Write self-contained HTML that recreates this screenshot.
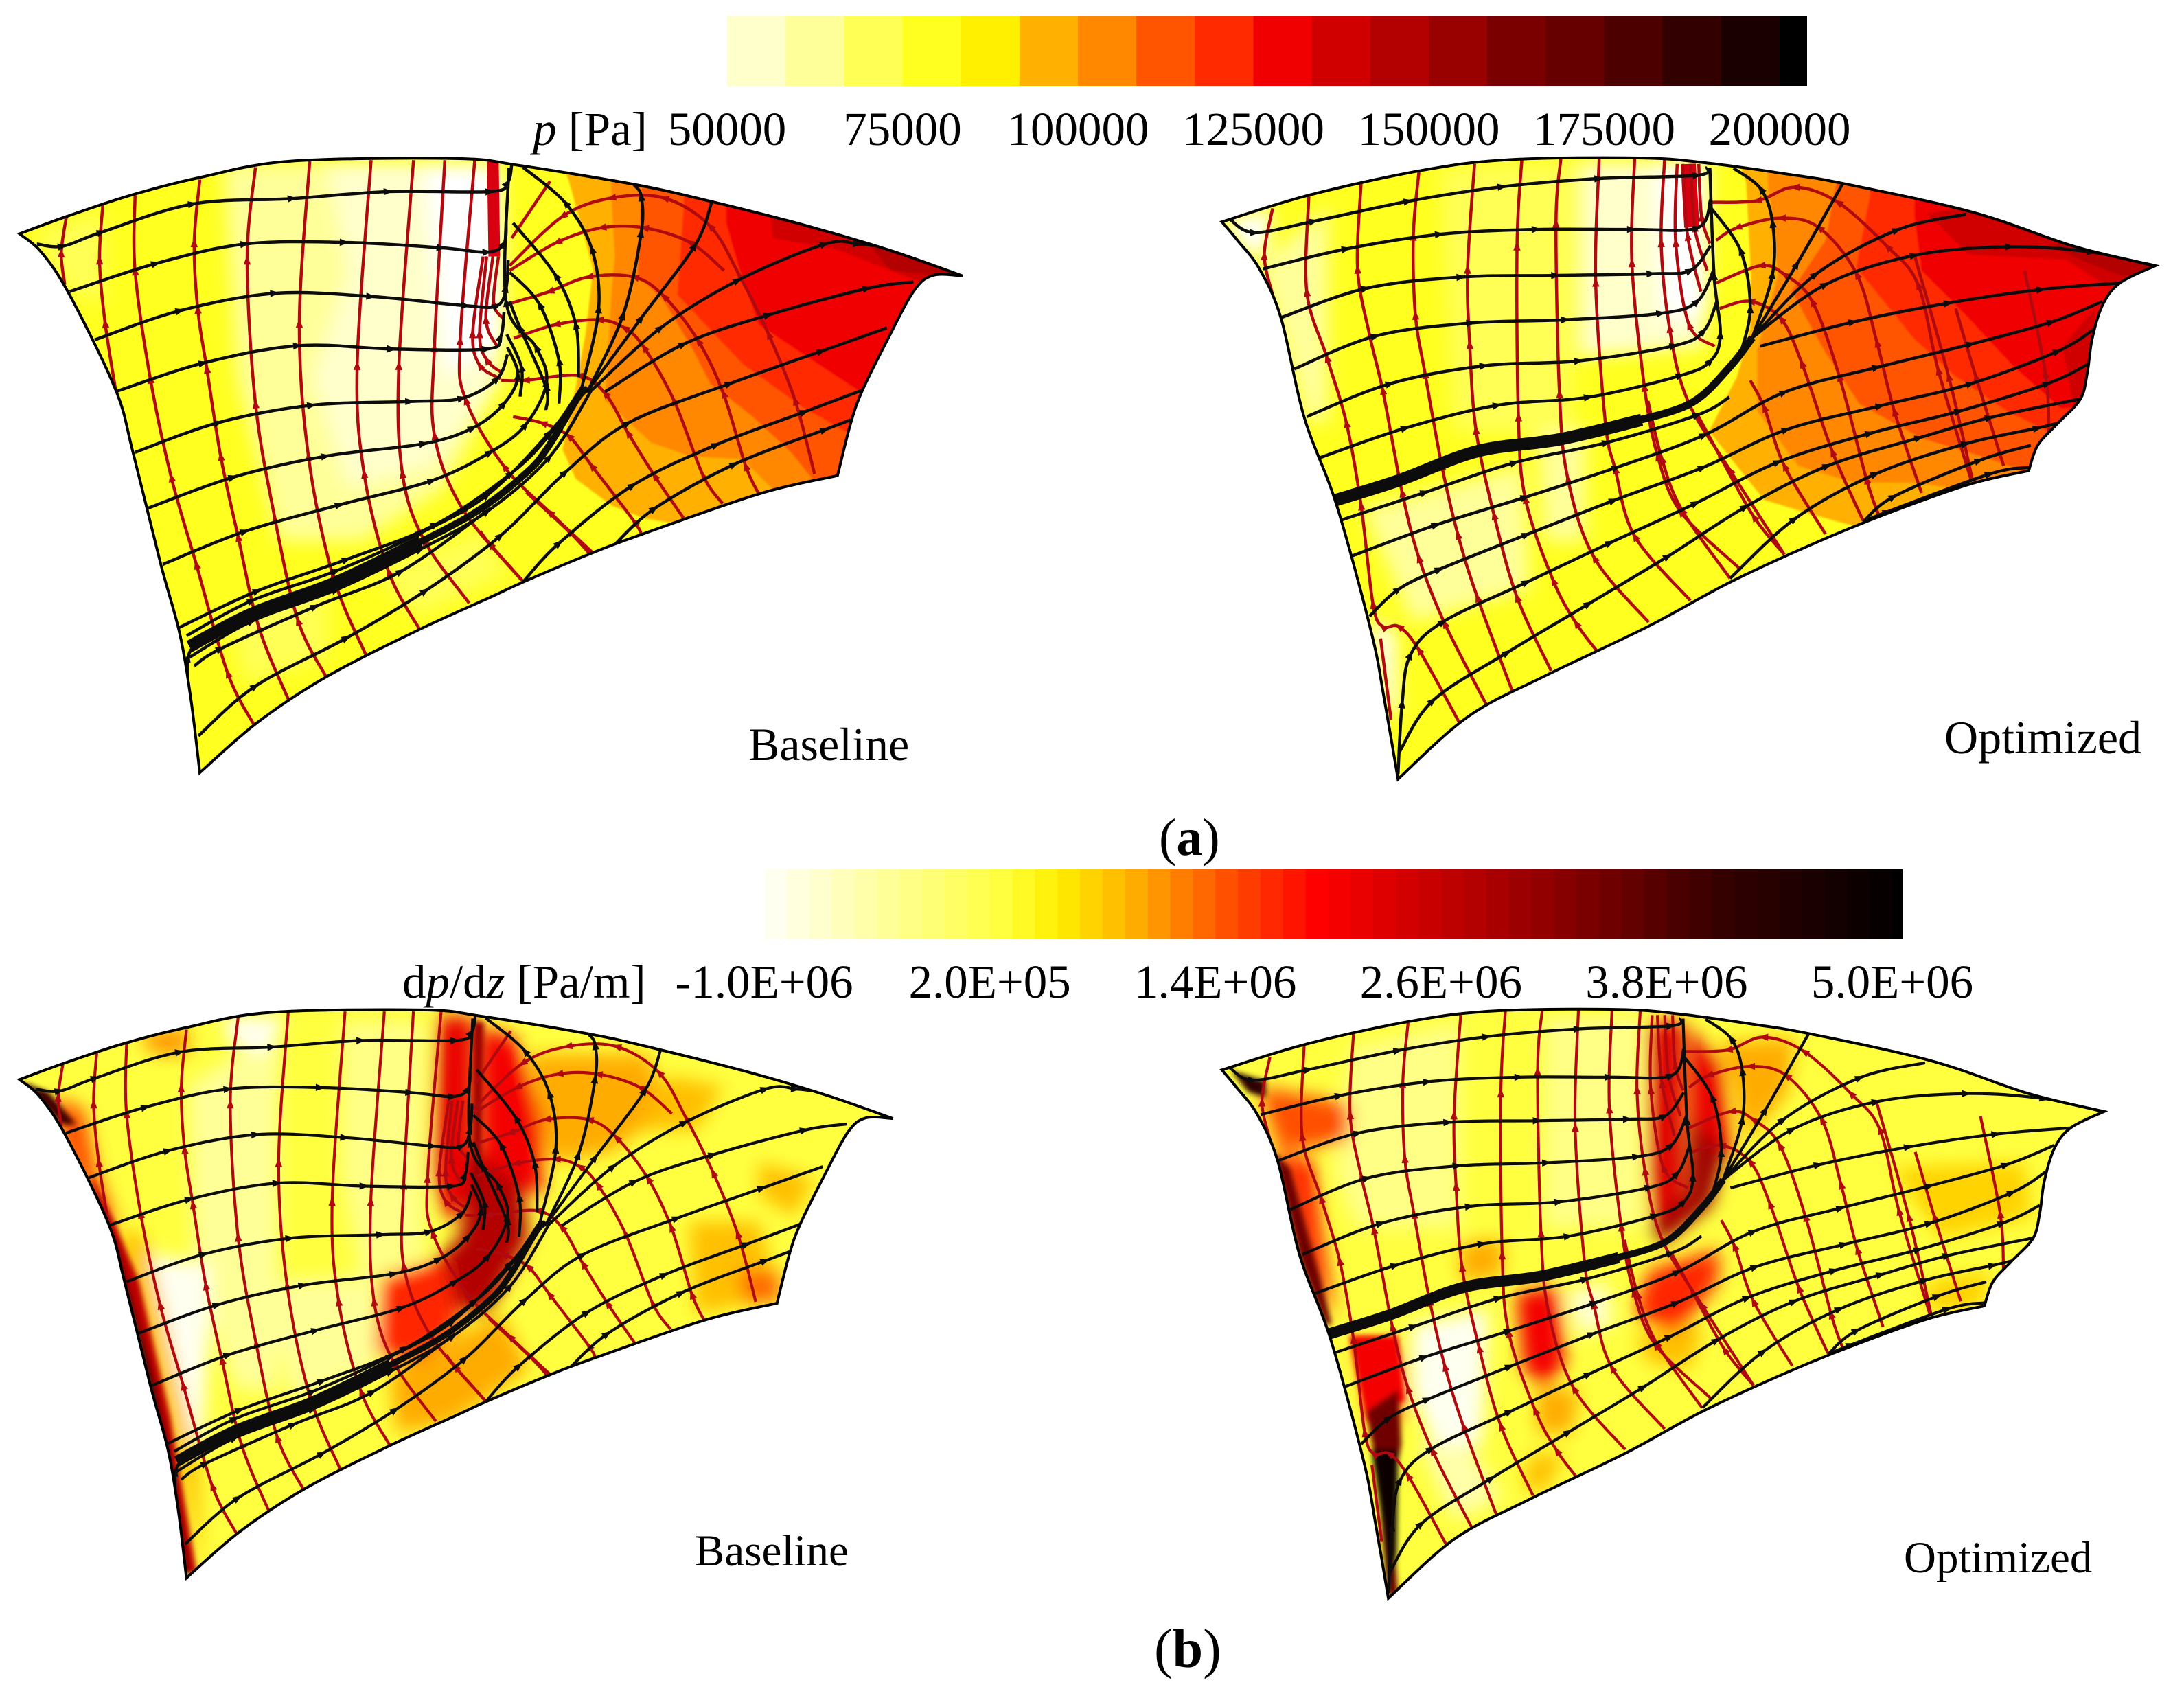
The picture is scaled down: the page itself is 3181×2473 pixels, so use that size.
<!DOCTYPE html>
<html lang="en">
<head>
<meta charset="utf-8">
<title>Pressure and pressure gradient contours with streamlines</title>
<style>
html,body{margin:0;padding:0;background:#fff;overflow:hidden}
svg{display:block}
text{font-family:"Liberation Serif",serif;fill:#000}
</style>
</head>
<body>
<svg id="figure" xmlns="http://www.w3.org/2000/svg" width="3181" height="2473" viewBox="0 0 3181 2473">
  <rect width="3181" height="2473" fill="#fff"/>
  <defs>
    <filter id="blurHard" filterUnits="userSpaceOnUse" x="0" y="0" width="3181" height="2473"><feGaussianBlur stdDeviation="1.2"/></filter>
    <filter id="blurSoft" filterUnits="userSpaceOnUse" x="0" y="0" width="3181" height="2473"><feGaussianBlur stdDeviation="13"/></filter>
    <filter id="blurEdge" filterUnits="userSpaceOnUse" x="0" y="0" width="3181" height="2473"><feGaussianBlur stdDeviation="4"/></filter>
  </defs>
  <g id="panels"></g>
  <g id="colorbars"></g>
  <text x="776" y="211" font-size="69"><tspan font-style="italic">p</tspan> [Pa]</text>
  <text x="586" y="1453" font-size="69">d<tspan font-style="italic">p</tspan>/d<tspan font-style="italic">z</tspan> [Pa/m]</text>
  <text x="1090" y="1107" font-size="68">Baseline</text>
  <text x="2832" y="1097" font-size="68">Optimized</text>
  <text x="1012" y="2280" font-size="65">Baseline</text>
  <text x="2773" y="2290" font-size="65">Optimized</text>
  <text x="1688" y="1245" font-size="76">(<tspan font-weight="bold">a</tspan>)</text>
  <text x="1681" y="2428" font-size="80">(<tspan font-weight="bold">b</tspan>)</text>
</svg>
<script>
/* ---------- colour-bar data ---------- */
const pressureBandColors = ["#ffffcc","#ffff99","#ffff55","#ffff20","#fff000","#ffb000","#ff8800","#ff5500","#ff2a00","#f00000","#d00000","#b30000","#990000","#7a0000","#660000","#4d0000","#330000","#1a0000","#000000"];
const pressureMin = 50000;
const pressureBandStep = 25000 / 3;
const pressureTicks = [50000, 75000, 100000, 125000, 150000, 175000, 200000];
const gradientStops = [-1000000, 200000, 500000, 900000, 1400000, 1880000, 3100000, 4050000, 5000000];
const gradientStopColors = ["#fffff0","#ffff40","#fff000","#ffb000","#ff5000","#ff0000","#900000","#330000","#000000"];
const gradientBandStep = 120000;
const gradientTicks = [-1000000, 200000, 1400000, 2600000, 3800000, 5000000];
const gradientTickLabels = ["-1.0E+06","2.0E+05","1.4E+06","2.6E+06","3.8E+06","5.0E+06"];

/* ---------- surface geometry, in blade-surface coordinates ---------- */
const baselineOutline = [
 [[28,432],[96,400],[190,360],[287,328],[417,298],[654,293],[747,306],[916,342],[1020,372],[1161,418],[1279,463],[1383,510]],
 [[1383,510],[1340,509],[1312,539],[1274,630],[1239,721],[1222,782],[1203,879]],
 [[1203,879],[1090,913],[921,988],[845,1025],[751,1076],[704,1104],[600,1165],[470,1250],[370,1335],[287,1428]],
 [[287,1428],[274,1290],[258,1170],[231,1043],[191,836],[166,720],[100,545],[60,467],[28,432]]
];
const baselineBlack = [
 [[53,451],[90,455],[146,429],[277,377],[420,367],[558,354],[704,354],[729,338],[735,305]],
 [[100,539],[224,487],[352,451],[495,448],[634,458],[700,466],[724,450],[727,409]],
 [[136,628],[259,574],[395,542],[533,548],[669,565],[714,565],[727,532],[730,480]],
 [[168,723],[292,671],[428,639],[563,645],[699,645],[719,623],[724,577]],
 [[194,836],[314,781],[448,749],[589,742],[664,736],[714,700],[729,655]],
 [[211,940],[335,882],[468,843],[609,820],[679,791],[724,746],[744,694],[729,642]],
 [[234,1043],[352,982],[488,933],[621,888],[704,836],[755,785],[785,707],[770,642],[727,558],[731,310]],
 [[257,1160],[370,1092],[498,1034],[626,969],[734,875],[789,804],[836,715]],
 [[268,1175],[362,1110],[483,1055],[604,985],[700,915],[789,800],[840,715]],
 [[272,1215],[362,1148],[483,1090],[604,1015],[700,945],[789,845],[850,720]],
 [[279,1231],[317,1199],[453,1121],[576,1056],[704,940]],
 [[272,1300],[270,1215],[290,1180]],
 [[285,1360],[367,1268],[498,1179],[611,1092],[719,990],[812,873],[902,782],[1048,709],[1180,649],[1274,606]],
 [[751,1076],[803,1004],[909,897],[1029,822],[1156,761],[1239,721]],
 [[878,1013],[940,940],[1055,858],[1185,794],[1222,776]],
 [[845,721],[921,588],[998,454],[1022,375]],
 [[845,721],[895,582],[921,430],[921,363],[911,342]],
 [[836,715],[860,570],[850,460],[812,375],[751,309]],
 [[850,721],[949,606],[1060,518],[1185,451],[1232,451],[1255,454]],
 [[869,724],[982,636],[1104,582],[1246,533],[1312,521]],
 [[831,697],[827,600],[798,509],[737,412]],
 [[803,746],[803,667],[775,563],[732,503]],
 [[784,758],[784,715],[747,606],[732,557]],
 [[747,733],[749,679],[728,618]]
];
const baselineThick = [
 [[272,1195],[362,1134],[483,1076],[604,1001]],
 [[560,1030],[679,950],[755,875],[789,823],[830,735],[845,718]]
];
const baselineThickSizes = [18, 10];
const baselineRed = [
 [[96,396],[88,467],[93,526]],
 [[148,374],[143,480],[151,597],[166,720]],
 [[194,361],[194,500],[216,700],[246,882],[282,1043],[327,1244],[365,1340]],
 [[287,332],[279,448],[284,571],[297,681],[317,843],[342,992],[372,1160],[415,1295]],
 [[367,309],[355,480],[367,746],[395,959],[428,1147],[468,1250]],
 [[445,296],[430,597],[443,843],[478,1063],[526,1212]],
 [[533,296],[513,675],[523,875],[558,1056],[604,1166]],
 [[594,296],[573,675],[578,875],[609,998],[674,1115]],
 [[639,296],[624,642],[624,804],[664,940],[749,1072]],
 [[682,296],[661,629],[669,739],[724,862],[789,946],[850,1020]],
 [[694,474],[679,616],[689,675],[719,700]],
 [[699,474],[689,616],[699,665],[722,690]],
 [[708,474],[698,590],[714,640]],
 [[716,474],[709,560],[724,590]],
 [[735,440],[790,335]],
 [[732,491],[808,400],[878,366],[954,366],[1020,418],[1062,509],[1104,618],[1142,740],[1170,876]],
 [[732,500],[800,448],[864,421],[925,421],[991,448],[1040,500]],
 [[735,560],[789,539],[845,512],[911,512],[954,548],[1003,630],[1039,727],[1071,861],[1090,913]],
 [[738,625],[798,600],[860,591],[897,606],[925,642],[968,740],[1010,879],[1038,931]],
 [[720,703],[754,703],[831,694],[869,727],[902,800],[940,879],[982,958]],
 [[737,770],[779,782],[817,806],[850,861],[911,964],[921,988]],
 [[690,982],[704,1006],[751,1074]],
 [[756,910],[817,982],[848,1025]]
];
const baselineDenseRed = [[[708,299],[710,474]]];
const baselineSoftPressure = [
 {v:68000,pts:[[50,430],[150,390],[150,560],[100,540]]},
 {v:68000,pts:[[330,1130],[470,1090],[470,1220],[350,1260]]},
 {v:70000,pts:[[540,1060],[690,980],[730,1060],[600,1140]]},
 {v:64000,pts:[[320,300],[700,300],[720,700],[640,900],[520,1000],[400,1000],[340,700]]},
 {v:54000,pts:[[470,300],[700,300],[720,700],[620,860],[500,900],[450,700],[500,500]]},
 {v:45000,pts:[[610,310],[720,310],[725,640],[640,690],[625,500]]}
];
const baselineBands = [
 {v:96000,pts:[[805,300],[817,333],[852,497],[841,618],[827,715],[808,831],[827,885],[878,934],[925,958],[982,970],[1400,1000],[1400,300]]},
 {v:104000,pts:[[878,300],[878,363],[883,472],[878,545],[869,740],[935,818],[991,843],[1067,849],[1114,910],[1400,950],[1400,300]]},
 {v:112000,pts:[[921,300],[921,363],[916,509],[954,557],[996,648],[1020,709],[1081,770],[1137,837],[1170,890],[1400,900],[1400,300]]},
 {v:121000,pts:[[982,300],[982,381],[973,545],[1067,673],[1152,752],[1218,800],[1400,800],[1400,300]]},
 {v:129000,pts:[[1043,300],[1043,412],[1062,497],[1090,600],[1161,661],[1232,721],[1400,700],[1400,300]]},
 {v:137000,pts:[[1100,300],[1110,440],[1200,460],[1320,520],[1400,520],[1400,300]]},
 {v:146000,pts:[[1240,440],[1280,500],[1400,515],[1400,440]]}
];
const optimizedOutline = [
 [[187,410],[314,360],[474,315],[601,295],[790,292],[889,302],[1000,322],[1079,339],[1265,392],[1413,456],[1528,491]],
 [[1528,491],[1477,523],[1452,564],[1437,627],[1430,690],[1420,738],[1388,782],[1359,823],[1346,870]],
 [[1346,870],[1261,895],[1143,949],[1040,1003],[917,1076],[799,1158],[650,1250],[540,1325],[440,1440]],
 [[440,1440],[420,1290],[402,1170],[352,934],[305,770],[272,588],[241,497],[210,445],[187,410]]
];
const optimizedBlack = [
 [[199,406],[234,430],[319,409],[455,372],[590,345],[729,330],[870,324],[884,309]],
 [[246,497],[366,460],[500,433],[639,424],[776,424],[870,421],[889,369]],
 [[272,587],[394,533],[531,512],[667,509],[804,506],[860,500],[889,454]],
 [[291,682],[408,621],[545,597],[681,591],[818,579],[870,557],[894,497]],
 [[309,770],[429,709],[564,676],[700,667],[837,639],[879,612],[898,557]],
 [[328,846],[451,791],[583,749],[714,734],[846,694],[889,667],[903,618],[894,509],[888,310]],
 [[359,961],[479,910],[608,855],[740,818],[870,767],[916,734]],
 [[373,1028],[495,970],[623,919],[754,864],[880,804],[995,725],[1128,679],[1263,636],[1379,595],[1452,557]],
 [[399,1139],[441,1089],[500,1052],[625,988],[750,925],[878,864],[998,794],[1133,750],[1263,709],[1388,649],[1440,608]],
 [[440,1430],[446,1300],[458,1210],[505,1149],[625,1076],[745,1003],[868,930],[986,854],[1118,801],[1246,760],[1373,709],[1430,674]],
 [[442,1390],[490,1295],[597,1206],[714,1116],[828,1028],[939,937],[1057,861],[1189,809],[1290,772],[1418,738]],
 [[917,1069],[1010,959],[1126,876],[1256,820],[1359,791],[1388,782]],
 [[1108,965],[1152,918],[1275,851],[1349,823]],
 [[1108,965],[1143,946],[1290,876],[1346,864]],
 [[949,624],[1040,507],[1157,425],[1256,396]],
 [[949,624],[1054,526],[1182,472],[1319,456],[1437,466],[1526,491]],
 [[960,640],[1094,595],[1231,560],[1364,535],[1477,523]],
 [[949,624],[1013,488],[1079,339]],
 [[949,624],[978,507],[978,412],[961,349],[922,311]],
 [[931,658],[946,570],[932,463],[887,380]]
];
const optimizedThick = [
 [[349,925],[441,888],[554,834],[672,812],[790,776]],
 [[770,782],[860,746],[916,679],[949,624]]
];
const optimizedThickSizes = [18, 11];
const optimizedRed = [
 [[260,385],[248,472],[260,545]],
 [[312,360],[309,539],[338,661],[366,782],[387,934],[404,1116],[418,1158],[441,1158],[470,1201],[530,1340]],
 [[387,339],[382,497],[399,618],[418,721],[446,910],[470,1031],[507,1152],[570,1310]],
 [[470,318],[462,436],[465,582],[479,691],[503,861],[526,988],[554,1104],[605,1280]],
 [[550,303],[540,497],[543,636],[552,794],[578,952],[611,1104],[660,1240]],
 [[618,293],[611,454],[613,770],[623,922],[663,1073],[696,1152],[730,1210]],
 [[674,293],[667,412],[672,727],[684,885],[722,1031],[800,1150]],
 [[729,293],[724,521],[738,782],[752,867],[780,991],[860,1110]],
 [[780,293],[776,485],[794,715],[813,843],[846,946],[930,1050]],
 [[823,293],[818,448],[830,606],[856,740],[917,869],[995,1025]],
 [[841,303],[839,448],[858,600],[895,640]],
 [[849,303],[856,436],[875,539]],
 [[860,303],[866,420],[884,500]],
 [[872,303],[876,400],[888,450]],
 [[415,1180],[430,1330]],
 [[890,374],[956,371],[1010,346],[1072,374],[1143,456],[1187,526],[1216,684],[1263,886]],
 [[897,444],[927,421],[990,403],[1045,421],[1099,507],[1128,633],[1153,760],[1192,911]],
 [[897,523],[961,491],[995,507],[1035,557],[1074,696],[1113,886],[1130,950]],
 [[902,570],[946,557],[990,589],[1020,671],[1064,835],[1108,962]],
 [[946,703],[966,753],[995,861],[1054,987]],
 [[870,766],[902,842],[951,955],[995,1025]],
 [[799,741],[819,848],[848,943],[917,1069]],
 [[1182,472],[1231,696],[1265,886]],
 [[1241,570],[1270,696],[1310,861]],
 [[1340,500],[1370,690],[1375,800]]
];
const optimizedDenseRed = [[[857,303],[862,420]]];
const optimizedSoftPressure = [
 {v:66000,pts:[[240,490],[340,380],[340,780],[310,780]]},
 {v:70000,pts:[[500,310],[690,300],[690,800],[520,800]]},
 {v:66000,pts:[[390,940],[620,860],[630,1090],[460,1150]]},
 {v:66000,pts:[[640,800],[710,790],[710,1000],[650,1000]]},
 {v:58000,pts:[[700,300],[880,300],[880,640],[700,660]]},
 {v:49000,pts:[[810,300],[885,300],[885,580],[820,590]]},
 {v:45000,pts:[[188,408],[260,385],[250,470],[225,470]]},
 {v:45000,pts:[[400,1140],[435,1170],[440,1320],[425,1320]]}
];
const optimizedBands = [
 {v:96000,pts:[[930,300],[940,336],[947,507],[946,608],[927,696],[887,797],[966,924],[1030,949],[1103,975],[1600,1000],[1600,300]]},
 {v:104000,pts:[[971,300],[971,336],[986,507],[956,646],[956,760],[1015,861],[1094,892],[1182,892],[1251,905],[1600,900],[1600,300]]},
 {v:112000,pts:[[1069,300],[1069,342],[1054,444],[1005,538],[1054,652],[1103,747],[1192,810],[1290,848],[1346,875],[1600,870],[1600,300]]},
 {v:121000,pts:[[1118,300],[1118,361],[1098,494],[1182,627],[1241,696],[1315,760],[1378,800],[1600,800],[1600,300]]},
 {v:129000,pts:[[1182,300],[1182,399],[1192,500],[1256,583],[1324,677],[1392,755],[1600,740],[1600,300]]},
 {v:137000,pts:[[1200,395],[1260,470],[1400,480],[1460,530],[1600,530],[1600,300]]},
 {v:137000,pts:[[1395,640],[1440,570],[1445,720],[1410,750]]},
 {v:146000,pts:[[1380,455],[1420,480],[1480,510],[1600,500],[1600,300]]}
];
/* gradient field patches use each lower panel's own coordinates */
const baselineSoftGradient = [
 {v:-300000,pts:[[270,440],[400,330],[400,1000],[340,1000],[280,800]]},
 {v:-900000,pts:[[320,310],[410,310],[380,380],[330,360]]},
 {v:-900000,pts:[[215,750],[300,770],[300,900],[290,1100],[260,1100],[235,900]]},
 {v:-200000,pts:[[490,320],[610,320],[610,760],[520,800],[490,600]]},
 {v:-300000,pts:[[380,800],[540,790],[540,960],[420,1020]]},
 {v:1100000,pts:[[200,340],[270,330],[270,380],[220,380]]},
 {v:1500000,pts:[[75,460],[120,480],[140,600],[170,700],[140,680],[90,560]]},
 {v:900000,pts:[[170,700],[210,720],[250,950],[285,1150],[290,1340],[255,1130],[215,930]]},
 {v:2200000,pts:[[630,310],[680,310],[680,640],[640,690],[620,600]]},
 {v:2000000,pts:[[690,330],[740,350],[780,500],[780,640],[690,600]]},
 {v:2800000,pts:[[680,560],[750,620],[760,720],[700,860],[640,850],[600,790],[660,720]]},
 {v:1700000,pts:[[550,790],[640,760],[660,880],[600,950],[540,930]]},
 {v:1000000,pts:[[760,380],[930,380],[960,480],[880,560],[790,580]]},
 {v:900000,pts:[[960,420],[1040,440],[1000,520],[920,520]]},
 {v:1000000,pts:[[560,970],[720,860],[760,960],[650,1060],[570,1080]]},
 {v:900000,pts:[[990,690],[1090,690],[1120,830],[1000,860]]},
 {v:1300000,pts:[[1060,780],[1120,780],[1120,840],[1070,840]]},
 {v:800000,pts:[[1090,580],[1170,610],[1140,680],[1090,640]]}
];
const baselineEdgeGradient = [
 {v:4000000,pts:[[30,430],[70,450],[110,510],[90,510],[50,460]]},
 {v:2600000,pts:[[130,600],[165,690],[200,800],[245,1050],[283,1340],[268,1340],[240,1130],[195,880],[150,720]]},
 {v:4200000,pts:[[150,700],[165,720],[215,950],[245,1120],[272,1340],[264,1340],[238,1130],[192,880]]},
 {v:3000000,pts:[[680,320],[695,320],[690,640],[680,640]]}
];
const optimizedSoftGradient = [
 {v:-200000,pts:[[370,370],[530,320],[530,700],[380,700],[350,600]]},
 {v:-200000,pts:[[650,310],[790,310],[790,700],[650,700]]},
 {v:-900000,pts:[[460,880],[570,850],[560,1100],[500,1130],[460,1000]]},
 {v:-500000,pts:[[470,1100],[540,1100],[590,1200],[520,1240]]},
 {v:-700000,pts:[[680,820],[740,800],[750,880],[700,900]]},
 {v:1500000,pts:[[240,440],[370,470],[370,540],[270,560]]},
 {v:1700000,pts:[[265,560],[320,580],[330,700],[350,870],[310,780]]},
 {v:2300000,pts:[[800,320],[850,320],[850,640],[810,720],[800,600]]},
 {v:2200000,pts:[[860,330],[905,400],[920,560],[860,620]]},
 {v:3000000,pts:[[860,500],[910,560],[890,660],[820,730],[800,700],[855,640]]},
 {v:1000000,pts:[[900,360],[1010,350],[1000,450],[940,540],[920,430]]},
 {v:1000000,pts:[[530,730],[590,720],[590,790],[530,800]]},
 {v:2100000,pts:[[610,820],[670,810],[680,950],[650,1000],[620,960]]},
 {v:1000000,pts:[[640,1000],[700,1000],[690,1080],[640,1080]]},
 {v:900000,pts:[[630,1120],[680,1120],[650,1190],[620,1180]]},
 {v:1700000,pts:[[800,780],[900,740],[900,800],[840,900],[780,860]]},
 {v:900000,pts:[[780,900],[880,880],[860,960],[800,950]]},
 {v:700000,pts:[[1150,590],[1340,580],[1350,680],[1220,720]]},
 {v:700000,pts:[[1200,800],[1290,780],[1280,850],[1200,855]]},
 {v:1300000,pts:[[380,920],[440,920],[450,1040],[410,1100]]}
];
const optimizedEdgeGradient = [
 {v:4200000,pts:[[200,410],[250,430],[250,460],[225,450]]},
 {v:3500000,pts:[[262,560],[285,590],[330,800],[345,880],[335,880],[300,760]]},
 {v:2000000,pts:[[370,900],[440,900],[450,1020],[395,1060]]},
 {v:3500000,pts:[[395,1040],[440,1000],[445,1100],[430,1200],[440,1380],[425,1380],[410,1150]]},
 {v:4800000,pts:[[402,1110],[440,1110],[438,1300],[428,1385],[418,1250]]}
];

/* ---------- scales ---------- */
const SVG_NS = "http://www.w3.org/2000/svg";
const KX = 1.014;
const KY = 0.788;
const RED = "#b00a10";
const BLACK = "#0c0c0c";
const pressureX = v => 1059 + (v - pressureMin) * (2592 - 1059) / 150000;
const gradientX = v => 1113 + (v + 1000000) * (2756 - 1113) / 6000000;
function pressureColor(v){
  if (v < pressureMin) return "#ffffff";
  const i = Math.floor((v - pressureMin) / pressureBandStep);
  return pressureBandColors[Math.min(i, pressureBandColors.length - 1)];
}
function hexRgb(h){ return [1,3,5].map(i => parseInt(h.substr(i,2),16)); }
function gradientColor(v){
  const q = gradientStops[0] + Math.floor((v - gradientStops[0]) / gradientBandStep) * gradientBandStep;
  if (v < gradientStops[0]) return "#ffffff";
  if (q <= gradientStops[0]) return gradientStopColors[0];
  for (let i = 1; i < gradientStops.length; i++){
    if (q <= gradientStops[i]){
      const t = (q - gradientStops[i-1]) / (gradientStops[i] - gradientStops[i-1]);
      const a = hexRgb(gradientStopColors[i-1]), b = hexRgb(gradientStopColors[i]);
      return "rgb(" + a.map((c,j) => Math.round(c + (b[j]-c)*t)).join(",") + ")";
    }
  }
  return "#000000";
}
function make(tag, parent, attrs){
  const e = document.createElementNS(SVG_NS, tag);
  for (const a in attrs) e.setAttribute(a, attrs[a]);
  parent.appendChild(e);
  return e;
}
function curveSegs(pts){
  let d = "";
  for (let i = 0; i < pts.length - 1; i++){
    const p0 = pts[i-1] || pts[i], p1 = pts[i], p2 = pts[i+1], p3 = pts[i+2] || p2;
    d += "C" + (p1[0]+(p2[0]-p0[0])/6).toFixed(1) + " " + (p1[1]+(p2[1]-p0[1])/6).toFixed(1) + " " +
         (p2[0]-(p3[0]-p1[0])/6).toFixed(1) + " " + (p2[1]-(p3[1]-p1[1])/6).toFixed(1) + " " +
         p2[0].toFixed(1) + " " + p2[1].toFixed(1);
  }
  return d;
}
function curvePath(pts){ return "M" + pts[0][0].toFixed(1) + " " + pts[0][1].toFixed(1) + curveSegs(pts); }
function polyString(pts){ return pts.map(p => p[0].toFixed(1) + "," + p[1].toFixed(1)).join(" "); }

/* ---------- colour bars ---------- */
const bars = document.getElementById("colorbars");
pressureBandColors.forEach((c, i) => {
  const v0 = pressureMin + i * pressureBandStep;
  const w = i === pressureBandColors.length - 1 ? 40 : pressureX(v0 + pressureBandStep) - pressureX(v0) + 0.6;
  const r = make("rect", bars, {x: pressureX(v0), y: 24, width: w, height: 101, fill: c});
  
  
});
pressureTicks.forEach(t => {
  const l = make("text", bars, {x: pressureX(t), y: 211, "font-size": 69, "text-anchor": "middle"});
  l.textContent = String(t);
  
  
});
for (let v = gradientStops[0]; v < 5060000; v += gradientBandStep){
  const x0 = gradientX(v);
  const x1 = Math.min(gradientX(v + gradientBandStep) + 0.6, 2771);
  if (x1 <= x0) continue;
  const r = make("rect", bars, {x: x0, y: 1266, width: x1 - x0, height: 102, fill: gradientColor(v + 1)});
  
  
}
gradientTicks.forEach((t, i) => {
  const l = make("text", bars, {x: gradientX(t), y: 1453, "font-size": 69, "text-anchor": "middle"});
  l.textContent = gradientTickLabels[i];
  
  
});

/* ---------- panels ---------- */
function drawArrows(g, pts, map, size, reverse, color){
  for (let i = 1; i < pts.length - 1; i += 1){
    const a = map(pts[i-1]), b = map(pts[i]), c = map(pts[i+1]);
    let dx = c[0]-a[0], dy = c[1]-a[1];
    const n = Math.hypot(dx, dy) || 1; dx /= n; dy /= n;
    if (reverse){ dx = -dx; dy = -dy; }
    const tri = [[b[0]+dx*size, b[1]+dy*size],[b[0]-dx*size-dy*size*.75, b[1]-dy*size+dx*size*.75],[b[0]-dx*size+dy*size*.75, b[1]-dy*size-dx*size*.75]];
    const t = make("polygon", g, {points: polyString(tri), fill: color});
    
    
  }
}
let clipCount = 0;
function drawPanel(cfg){
  const root = document.getElementById("panels");
  const g = make("g", root, {});
  
  
  const outline = cfg.outline.map(s => s.map(cfg.surface));
  let d = curvePath(outline[0]);
  for (let i = 1; i < outline.length; i++) d += curveSegs(outline[i]);
  d += "Z";
  const id = "clip" + (++clipCount);
  const defs = make("clipPath", g, {id: id});
  make("path", defs, {d: d});
  const surf = make("path", g, {d: d, fill: cfg.baseColor});
  
  
  const clipped = make("g", g, {"clip-path": "url(#" + id + ")"});
  cfg.layers.forEach(layer => {
    const lg = make("g", clipped, {filter: "url(#" + layer.filter + ")"});
    layer.patches.forEach(p => {
      const poly = make("polygon", lg, {points: polyString(p.pts.map(layer.map)), fill: cfg.color(p.v)});
      
      
    });
  });
  const w = cfg.lineWidth;
  cfg.denseRed.forEach(line => {
    const r = make("path", clipped, {d: curvePath(line.map(cfg.surface)), fill: "none", stroke: "#d80010", "stroke-width": cfg.denseWidth});
    
    
  });
  cfg.red.forEach(line => {
    const r = make("path", clipped, {d: curvePath(line.map(cfg.surface)), fill: "none", stroke: RED, "stroke-width": w});
    
    
    drawArrows(clipped, line, cfg.surface, 7, true, RED);
  });
  cfg.thick.forEach((line, i) => {
    const t = make("path", clipped, {d: curvePath(line.map(cfg.surface)), fill: "none", stroke: BLACK, "stroke-width": cfg.thickSizes[i] * cfg.thickScale});
    
    
  });
  cfg.black.forEach(line => {
    const b = make("path", clipped, {d: curvePath(line.map(cfg.surface)), fill: "none", stroke: BLACK, "stroke-width": w});
    
    
    drawArrows(clipped, line, cfg.surface, 7, false, BLACK);
  });
  const o = make("path", g, {d: d, fill: "none", stroke: "#000", "stroke-width": 4, "stroke-linejoin": "miter"});
  
  
}
const aBaseMap = p => [p[0]*KX, p[1]*KY];
const aOptMap = p => [1590 + p[0]*KX, p[1]*KY];
const bBaseLocal = p => [p[0]*KX, 1236 + p[1]*KY];
const bOptLocal = p => [1590 + p[0]*KX, 1236 + p[1]*KY];
const bBaseMap = p => bBaseLocal([28 + (p[0]-28)*.926, 300 + (p[1]-295)*.925]);
const bOptMap = p => bOptLocal([188 + (p[0]-188)*.945, 300 + (p[1]-295)*.948]);

drawPanel({name:"baseline-pressure-panel", outline:baselineOutline, surface:aBaseMap, baseColor:pressureColor(78000), color:pressureColor,
  layers:[{filter:"blurSoft",map:aBaseMap,patches:baselineSoftPressure},{filter:"blurHard",map:aBaseMap,patches:baselineBands}],
  red:baselineRed, denseRed:baselineDenseRed, denseWidth:17, black:baselineBlack, thick:baselineThick, thickSizes:baselineThickSizes, thickScale:1, lineWidth:4.5});
drawPanel({name:"optimized-pressure-panel", outline:optimizedOutline, surface:aOptMap, baseColor:pressureColor(78000), color:pressureColor,
  layers:[{filter:"blurSoft",map:aOptMap,patches:optimizedSoftPressure},{filter:"blurHard",map:aOptMap,patches:optimizedBands}],
  red:optimizedRed, denseRed:optimizedDenseRed, denseWidth:22, black:optimizedBlack, thick:optimizedThick, thickSizes:optimizedThickSizes, thickScale:1, lineWidth:4.5});
drawPanel({name:"baseline-gradient-panel", outline:baselineOutline, surface:bBaseMap, baseColor:gradientColor(250000), color:gradientColor,
  layers:[{filter:"blurSoft",map:bBaseLocal,patches:baselineSoftGradient},{filter:"blurEdge",map:bBaseLocal,patches:baselineEdgeGradient}],
  red:baselineRed, denseRed:[], denseWidth:0, black:baselineBlack, thick:baselineThick, thickSizes:baselineThickSizes, thickScale:.9, lineWidth:4.2});
drawPanel({name:"optimized-gradient-panel", outline:optimizedOutline, surface:bOptMap, baseColor:gradientColor(250000), color:gradientColor,
  layers:[{filter:"blurSoft",map:bOptLocal,patches:optimizedSoftGradient},{filter:"blurEdge",map:bOptLocal,patches:optimizedEdgeGradient}],
  red:optimizedRed, denseRed:[], denseWidth:0, black:optimizedBlack, thick:optimizedThick, thickSizes:optimizedThickSizes, thickScale:.9, lineWidth:4.2});
</script>
</body>
</html>
